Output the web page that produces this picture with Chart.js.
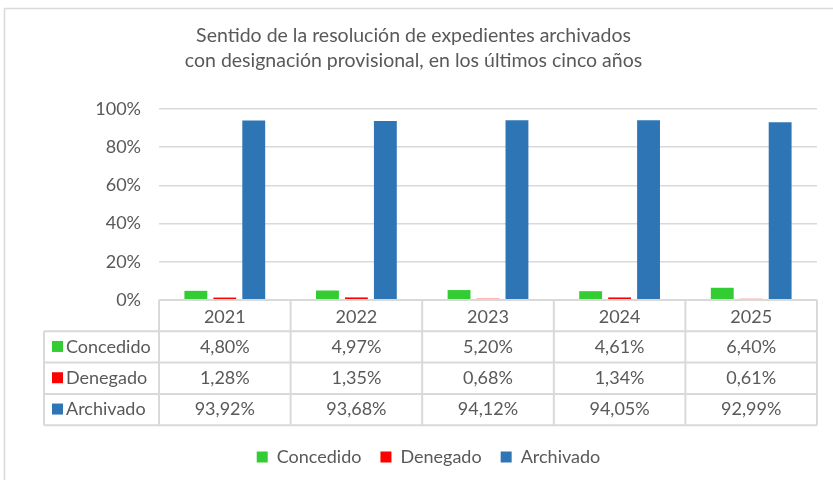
<!DOCTYPE html>
<html>
<head>
<meta charset="utf-8">
<script src="https://cdn.jsdelivr.net/npm/chart.js@4/dist/chart.umd.min.js"></script>
<style>
    body { margin: 0; background: #fff; }
    #wrap { width: 833px; height: 480px; position: relative; }
</style>
</head>
<body>
<div id="wrap"><canvas id="myChart"></canvas></div>
<script>
// data
var years = ["2021", "2022", "2023", "2024", "2025"];
var concedido = [4.80, 4.97, 5.20, 4.61, 6.40];
var denegado = [1.28, 1.35, 0.68, 1.34, 0.61];
var archivado = [93.92, 93.68, 94.12, 94.05, 92.99];
var seriesNames = ["Concedido", "Denegado", "Archivado"];
var seriesColors = ["#33cc33", "#ff0000", "#2e75b6"];

var FONT = "Lato, 'Open Sans', sans-serif";
var TEXT = "#595959";
var LINE = "#d9d9d9";

// formats 4.8 -> "4,80%"
function pct(v) {
    return v.toFixed(2).replace(".", ",") + "%";
}

// draws the frame and the data table under the x axis
var tablePlugin = {
    id: "dataTable",
    afterLayout: function (chart) {
        // legend sits a bit right of centre in the reference
        chart.legend.left += 15;
        chart.legend.right += 15;
    },
    beforeDraw: function (chart) {
        var ctx = chart.ctx;
        ctx.save();
        ctx.strokeStyle = LINE;
        ctx.lineWidth = 1.5;
        ctx.strokeRect(4.5, 8.5, chart.width + 20, chart.height + 20);
        ctx.restore();
    },
    afterDraw: function (chart) {
        var ctx = chart.ctx;
        var x = chart.scales.x;
        var area = chart.chartArea;
        var top = area.bottom;
        var rowH = 31.3;
        var leftX = 44;
        var rows = [concedido, denegado, archivado];
        var step = (area.right - area.left) / years.length;

        ctx.save();
        ctx.strokeStyle = LINE;
        ctx.lineWidth = 2;

        // horizontal lines
        for (var r = 1; r <= 4; r++) {
            var y = top + r * rowH;
            ctx.beginPath();
            ctx.moveTo(leftX, y);
            ctx.lineTo(area.right, y);
            ctx.stroke();
        }
        ctx.beginPath();
        ctx.moveTo(area.left, top);
        ctx.lineTo(area.right, top);
        ctx.stroke();

        // vertical lines
        for (var c = 0; c <= years.length; c++) {
            var vx = area.left + c * step;
            ctx.beginPath();
            ctx.moveTo(vx, top);
            ctx.lineTo(vx, top + 4 * rowH);
            ctx.stroke();
        }
        ctx.beginPath();
        ctx.moveTo(leftX, top + rowH);
        ctx.lineTo(leftX, top + 4 * rowH);
        ctx.stroke();

        // cells
        ctx.font = "18px " + FONT;
        ctx.fillStyle = TEXT;
        ctx.textBaseline = "middle";
        for (var i = 0; i < rows.length; i++) {
            var cy = top + (i + 1.5) * rowH;
            ctx.fillStyle = seriesColors[i];
            ctx.fillRect(leftX + 8, cy - 6, 11, 11);
            ctx.fillStyle = TEXT;
            ctx.textAlign = "left";
            ctx.fillText(seriesNames[i], leftX + 22, cy);
            ctx.textAlign = "center";
            for (var j = 0; j < years.length; j++) {
                ctx.fillText(pct(rows[i][j]), x.getPixelForValue(j), cy);
            }
        }
        ctx.restore();
    }
};

var myChart = new Chart(document.getElementById("myChart").getContext("2d"), {
    type: "bar",
    data: {
        labels: years,
        datasets: [
            { label: seriesNames[0], data: concedido, backgroundColor: seriesColors[0] },
            { label: seriesNames[1], data: denegado, backgroundColor: seriesColors[1] },
            { label: seriesNames[2], data: archivado, backgroundColor: seriesColors[2] }
        ]
    },
    options: {
        responsive: true,
        maintainAspectRatio: false,
        animation: false,
        datasets: {
            bar: { categoryPercentage: 0.66, barPercentage: 0.79 }
        },
        layout: { padding: { top: 10, right: 16, bottom: 4, left: 10 } },
        scales: {
            x: {
                grid: { display: false },
                border: { display: false },
                ticks: { color: TEXT, font: { family: FONT, size: 18 }, padding: -2 },
                afterFit: function (scale) { scale.height = 129; }
            },
            y: {
                min: 0,
                max: 100,
                ticks: {
                    stepSize: 20,
                    color: TEXT,
                    padding: 18,
                    font: { family: FONT, size: 18 },
                    callback: function (v) { return v + "%"; }
                },
                grid: { color: LINE, lineWidth: 1.5, drawTicks: false },
                border: { display: false },
                afterFit: function (scale) { scale.width = 149; }
            }
        },
        plugins: {
            title: {
                display: true,
                text: ["Sentido de la resolución de expedientes archivados",
                       "con designación provisional, en los últimos cinco años"],
                color: TEXT,
                font: { family: FONT, size: 19.5, weight: "normal", lineHeight: 1.28 },
                padding: { top: 13.5, bottom: 35.5 }
            },
            legend: {
                position: "bottom",
                labels: {
                    color: TEXT,
                    font: { family: FONT, size: 18 },
                    boxWidth: 11,
                    boxHeight: 11,
                    padding: 19
                }
            },
            tooltip: { enabled: false }
        }
    },
    plugins: [tablePlugin]
});
</script>
</body>
</html>
